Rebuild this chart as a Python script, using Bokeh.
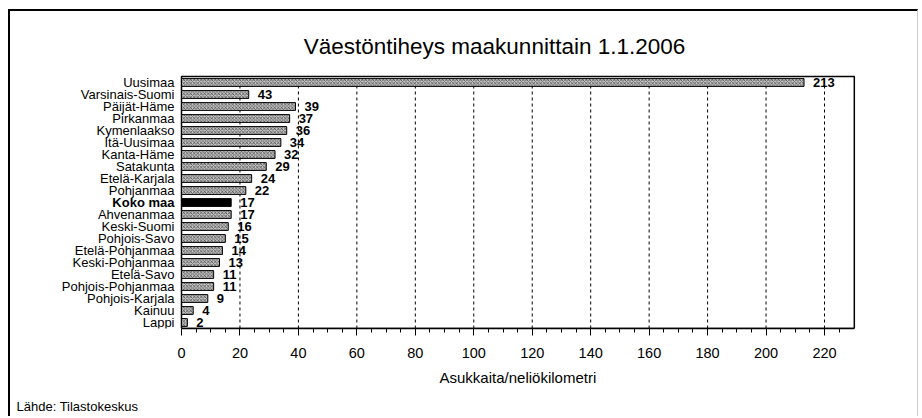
from bokeh.plotting import figure
from bokeh.models import ColumnDataSource, Range1d, FixedTicker, Title
from bokeh.core.properties import value
from bokeh.embed import file_html
from bokeh.resources import INLINE

# ---- data ----
regions = ["Uusimaa", "Varsinais-Suomi", "Päijät-Häme", "Pirkanmaa", "Kymenlaakso",
           "Itä-Uusimaa", "Kanta-Häme", "Satakunta", "Etelä-Karjala", "Pohjanmaa",
           "Koko maa", "Ahvenanmaa", "Keski-Suomi", "Pohjois-Savo", "Etelä-Pohjanmaa",
           "Keski-Pohjanmaa", "Etelä-Savo", "Pohjois-Pohjanmaa", "Pohjois-Karjala",
           "Kainuu", "Lappi"]
density_labels = [213, 43, 39, 37, 36, 34, 32, 29, 24, 22, 17, 17, 16, 15, 14, 13, 11, 11, 9, 4, 2]
# bar lengths as drawn in the reference (Varsinais-Suomi's bar is drawn short there)
bar_lengths = [213, 23, 39, 37, 36, 34, 32, 29, 24, 22, 17, 17, 16, 15, 14, 13, 11, 11, 9, 4, 2]
highlight = "Koko maa"
major_ticks = [0, 20, 40, 60, 80, 100, 120, 140, 160, 180, 200, 220]
minor_ticks = [5, 10, 15, 25, 30, 35, 45, 50, 55, 65, 70, 75, 85, 90, 95, 105, 110, 115,
               125, 130, 135, 145, 150, 155, 165, 170, 175, 185, 190, 195, 205, 210,
               215, 225]
x_max = 230.2
title_text = "Väestöntiheys maakunnittain 1.1.2006"
x_title = "Asukkaita/neliökilometri"
source_text = "Lähde: Tilastokeskus"

FONT = "Liberation Sans"
n = len(regions)
ypos = [n - 1 - i for i in range(n)]

src = ColumnDataSource(dict(
    y=ypos,
    zero=[0] * n,
    name=regions,
    length=bar_lengths,
    lab=[str(v) for v in density_labels],
    fill=["black" if r == highlight else "#c4c4c4" for r in regions],
    hatch=[" " if r == highlight else "x" for r in regions],
    style=["bold" if r == highlight else "normal" for r in regions],
))

# canvas geometry: px per unit
PX_X = 643 / 220.0
PX_Y = 12.0
LEFT_PX = 171
W, H = 910, 407
FRAME_H = 317
x0 = -LEFT_PX / PX_X
x1 = (W - LEFT_PX) / PX_X
y0 = -0.5
y1 = -0.5 + FRAME_H / PX_Y

p = figure(width=W, height=H,
           x_range=Range1d(x0, x1), y_range=Range1d(y0, y1),
           output_backend="svg", toolbar_location=None,
           min_border_left=0, min_border_right=0,
           min_border_top=0, min_border_bottom=H - FRAME_H)
p.styles = {"margin-left": "8px", "margin-top": "9px",
            "border-left": "2px solid black", "border-top": "2px solid black",
            "border-right": "1px solid #cccccc"}

# plot-area frame
p.quad(left=[0], right=[x_max], bottom=[-0.5], top=[n - 0.5],
       fill_color=None, line_color="black", line_width=1.5)

# dashed vertical grid lines
grid_x = major_ticks[1:]
p.segment(x0=grid_x, x1=grid_x, y0=[-0.5] * len(grid_x), y1=[n - 0.5] * len(grid_x),
          line_color="black", line_width=1, line_dash="3 3")

p.hbar(y="y", left=0, right="length", height=0.65, source=src,
       fill_color="fill", line_color="black", line_width=1,
       hatch_pattern="hatch", hatch_color="black", hatch_scale=3.5,
       hatch_weight=0.6, hatch_alpha=0.8)

# value labels
p.text(x="length", y="y", text="lab", source=src, x_offset=9,
       text_align="left", text_baseline="middle",
       text_font=value(FONT), text_font_size="13px",
       text_font_style="bold", text_color="black")
# category labels
p.text(x="zero", y="y", text="name", source=src, x_offset=-7,
       text_align="right", text_baseline="middle",
       text_font=value(FONT), text_font_size="13px",
       text_font_style="style", text_color="black")

# title
p.text(x=[(494 - 181) / PX_X], y=[-0.5 + (328 - 46) / PX_Y], text=[title_text],
       text_align="center", text_baseline="middle",
       text_font=value(FONT), text_font_size="22.5px", text_color="black")

# axis title (centred under the plot area) and source note below the axis
p.add_layout(Title(text=x_title, align="left", offset=429, standoff=13,
                   text_font=FONT, text_font_size="15px", text_font_style="normal",
                   text_color="black"), "below")
p.add_layout(Title(text=source_text, align="left", offset=6, standoff=9,
                   text_font=FONT, text_font_size="13px", text_font_style="normal",
                   text_color="black"), "below")

p.yaxis.visible = False
p.xgrid.visible = False
p.ygrid.visible = False
ax = p.xaxis[0]
ax.ticker = FixedTicker(ticks=major_ticks, minor_ticks=minor_ticks)
ax.bounds = (0, x_max)
ax.major_tick_out = 7
ax.major_tick_in = 0
ax.minor_tick_out = 4
ax.minor_tick_in = 0
ax.axis_line_width = 1.5
ax.axis_line_color = "black"
ax.major_tick_line_color = "black"
ax.minor_tick_line_color = "black"
ax.major_label_standoff = 12
ax.major_label_text_font = FONT
ax.major_label_text_font_size = "14.5px"
ax.major_label_text_color = "black"

p.outline_line_color = None
p.background_fill_color = "white"
p.border_fill_color = "white"

open("out.html", "w").write(file_html(p, INLINE))
